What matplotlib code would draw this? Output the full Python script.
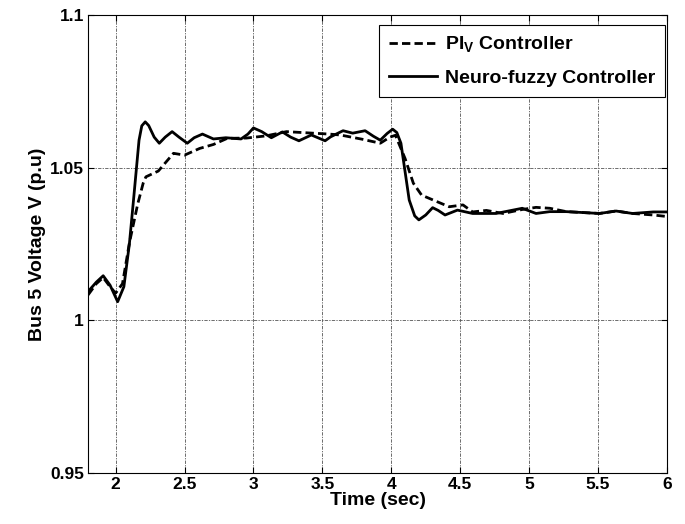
import matplotlib
matplotlib.use('Agg')
import matplotlib.pyplot as plt

plt.rcParams['font.family'] = ['Liberation Sans', 'DejaVu Sans']
plt.rcParams['font.weight'] = 'bold'
plt.rcParams['mathtext.fontset'] = 'custom'
plt.rcParams['mathtext.bf'] = 'Liberation Sans:bold'
plt.rcParams['mathtext.rm'] = 'Liberation Sans:bold'

# Neuro-fuzzy controller (solid)
t_nf = [1.80, 1.86, 1.91, 1.96, 2.015, 2.06, 2.10, 2.13, 2.17, 2.19, 2.215, 2.24,
        2.28, 2.317, 2.36, 2.41, 2.46, 2.52, 2.57, 2.63, 2.71, 2.80, 2.91, 2.96,
        3.00, 3.06, 3.13, 3.21, 3.27, 3.33, 3.42, 3.52, 3.56, 3.65, 3.72, 3.81,
        3.87, 3.92, 3.97, 4.01, 4.04, 4.07, 4.13, 4.17, 4.20, 4.25, 4.30, 4.34,
        4.39, 4.48, 4.59, 4.76, 4.95, 5.05, 5.15, 5.27, 5.51, 5.63, 5.75, 5.90,
        6.00]
v_nf = [1.0094, 1.0125, 1.0146, 1.0115, 1.0061, 1.011, 1.025, 1.0394, 1.059, 1.0637,
        1.065, 1.0638, 1.0600, 1.058, 1.060, 1.0618, 1.060, 1.058, 1.0598, 1.061,
        1.0594, 1.0598, 1.0594, 1.061, 1.063, 1.0618, 1.0598, 1.0617, 1.060, 1.0588,
        1.0607, 1.0588, 1.0601, 1.0621, 1.0613, 1.0621, 1.0603, 1.059, 1.0612, 1.0626,
        1.0615, 1.058, 1.0394, 1.0342, 1.0329, 1.0345, 1.0369, 1.0360, 1.0345, 1.0361,
        1.035, 1.035, 1.0367, 1.035, 1.0356, 1.0356, 1.035, 1.0358, 1.035, 1.0355,
        1.0355]

# PI_V controller (dashed)
t_pi = [1.80, 1.86, 1.91, 1.96, 2.00, 2.05, 2.10, 2.16, 2.20, 2.22, 2.31, 2.42,
        2.50, 2.61, 2.71, 2.81, 2.95, 3.09, 3.24, 3.43, 3.55, 3.63, 3.79, 3.92,
        3.99, 4.03, 4.10, 4.16, 4.22, 4.33, 4.42, 4.52, 4.59, 4.69, 4.81, 4.95,
        5.05, 5.15, 5.27, 5.51, 5.63, 5.75, 5.90, 6.00]
v_pi = [1.0083, 1.012, 1.014, 1.011, 1.0089, 1.012, 1.0253, 1.038, 1.0449, 1.047,
        1.0489, 1.0547, 1.0541, 1.0563, 1.0576, 1.0596, 1.0597, 1.0604, 1.0618, 1.0613,
        1.061, 1.0607, 1.0593, 1.058, 1.060, 1.0606, 1.053, 1.0449, 1.041, 1.0389,
        1.0372, 1.0378, 1.0355, 1.036, 1.035, 1.0363, 1.037, 1.0367, 1.0356, 1.035,
        1.0358, 1.035, 1.0345, 1.034]

fig = plt.figure(figsize=(6.85, 5.24), dpi=100)
ax = fig.add_axes([0.1285, 0.0973, 0.8452, 0.8741])

ax.plot(t_pi, v_pi, 'k--', lw=2, dashes=(3, 1.5), label=r'PI$_\mathbf{V}$ Controller')
ax.plot(t_nf, v_nf, 'k-', lw=2, label='Neuro-fuzzy Controller')

ax.set_xlim(1.8, 6)
ax.set_ylim(0.95, 1.1)
ax.set_xticks([2, 2.5, 3, 3.5, 4, 4.5, 5, 5.5, 6])
ax.set_xticklabels(['2', '2.5', '3', '3.5', '4', '4.5', '5', '5.5', '6'])
ax.set_yticks([0.95, 1.0, 1.05, 1.1])
ax.set_yticklabels(['0.95', '1', '1.05', '1.1'])
ax.tick_params(direction='in', top=True, right=True, labelsize=12.5, length=4, pad=3)
ax.grid(True, color='#555555', linestyle=(0, (1.5, 1.5, 4, 1.5)), lw=0.6)
ax.set_xlabel('Time (sec)', fontsize=14, fontweight='bold', labelpad=0)
ax.set_ylabel('Bus 5 Voltage V (p.u)', fontsize=14, fontweight='bold', labelpad=3)

leg = ax.legend(loc='upper right', bbox_to_anchor=(0.997, 0.978), fontsize=14,
                fancybox=False, edgecolor='black', framealpha=1, handlelength=2.5,
                handletextpad=0.4, labelspacing=0.75, borderpad=0.5, borderaxespad=0)
leg.get_frame().set_linewidth(0.8)

fig.savefig('out.png', dpi=100)
